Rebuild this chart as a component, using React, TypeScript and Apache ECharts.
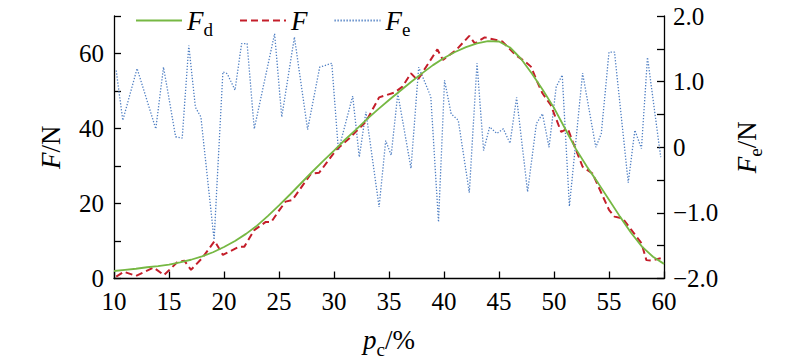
import React, { useEffect, useRef } from "react";
import * as echarts from "echarts";

// ---- data ----
const xTickValues = [10, 15, 20, 25, 30, 35, 40, 45, 50, 55, 60];

// design force F_d (N), sampled every 1 %
const fdX = [10, 11, 12, 13, 14, 15, 16, 17, 18, 19, 20, 21, 22, 23, 24, 25, 26, 27, 28, 29, 30, 31, 32, 33, 34, 35, 36, 37, 38, 39, 40, 41, 42, 43, 44, 45, 46, 47, 48, 49, 50, 51, 52, 53, 54, 55, 56, 57, 58, 59, 60];
const fdY = [2.0, 2.3, 2.6, 3.0, 3.3, 3.7, 4.3, 5.0, 5.9, 7.0, 8.4, 10.0, 11.9, 14.1, 16.7, 19.5, 22.4, 25.4, 28.4, 31.3, 34.1, 37.0, 39.7, 42.5, 45.1, 47.6, 50.0, 52.4, 54.7, 56.9, 58.8, 60.4, 61.7, 62.7, 63.3, 63.2, 61.6, 58.6, 54.6, 50.2, 45.5, 40.0, 34.5, 29.8, 25.5, 21.0, 16.5, 12.2, 8.5, 5.8, 3.9];

// measured force F (N)
const fX = [10.2, 10.9, 12.0, 13.6, 14.55, 15.8, 16.4, 17.0, 18.0, 19.15, 19.9, 21.4, 21.85, 22.75, 23.8, 24.3, 25.05, 25.6, 26.2, 27.9, 28.65, 30.2, 31.4, 32.9, 34.1, 35.5, 36.2, 37.0, 37.6, 39.4, 39.9, 41.1, 42.3, 42.8, 43.7, 45.3, 46.55, 47.4, 47.9, 48.5, 48.95, 49.7, 50.65, 51.25, 51.7, 52.6, 53.5, 55.0, 55.5, 56.25, 57.95, 58.4, 58.85, 59.7];
const fY = [0.5, 1.8, 0.7, 2.9, 0.9, 4.5, 4.75, 2.3, 5.4, 10.0, 6.3, 8.5, 8.5, 12.9, 15.1, 15.1, 18.3, 20.5, 20.9, 27.9, 28.2, 34.3, 37.4, 41.8, 48.3, 49.6, 51.1, 54.7, 52.9, 61.1, 58.3, 60.9, 64.7, 62.7, 64.3, 63.2, 59.5, 57.8, 56.5, 52.3, 49.4, 46.3, 39.1, 40.0, 36.5, 29.8, 28.0, 18.3, 16.5, 16.0, 9.4, 4.9, 4.75, 5.4];

// error F_e (N)
const feX = [10.2, 10.8, 12.1, 13.8, 14.5, 14.9, 15.6, 16.2, 16.8, 17.4, 17.9, 19.1, 19.9, 20.3, 21.0, 21.6, 22.1, 22.75, 24.6, 25.25, 26.4, 27.6, 28.7, 29.8, 30.4, 31.7, 32.3, 32.9, 34.1, 34.7, 35.2, 35.8, 37.0, 37.7, 38.8, 39.5, 40.05, 40.65, 41.3, 42.3, 43.0, 43.6, 44.15, 44.8, 45.4, 46.0, 46.6, 47.6, 48.4, 48.95, 49.55, 50.2, 50.75, 51.4, 52.6, 53.8, 54.3, 55.0, 55.5, 56.75, 57.35, 57.95, 58.5, 59.7];
const feY = [1.17, 0.41, 1.2, 0.28, 1.22, 0.84, 0.16, 0.14, 1.55, 0.61, 0.46, -1.41, 1.15, 1.12, 0.87, 1.58, 1.58, 0.28, 1.73, 0.46, 1.68, 0.27, 1.22, 1.28, -0.05, 0.78, -0.15, 0.54, -0.91, 0.1, -0.12, 0.82, -0.32, 1.22, 0.77, -1.14, 1.02, 0.51, 0.41, -0.69, 1.28, -0.05, 0.31, 0.21, 0.28, 0.06, 0.76, -0.68, 0.36, 0.51, 0.0, 0.92, 1.1, -0.9, 1.13, 0.0, 0.21, 1.45, 1.45, -0.54, 0.26, -0.02, 1.37, -0.15];

const FONT = "Liberation Serif";

const richStyles = {
  i: { fontFamily: FONT, fontStyle: "italic", fontSize: 27, lineHeight: 27, color: "#000" },
  s: { fontFamily: FONT, fontSize: 19, lineHeight: 37, verticalAlign: "bottom", color: "#000" },
  n: { fontFamily: FONT, fontSize: 27, lineHeight: 27, color: "#000" },
  t: { fontFamily: FONT, fontSize: 25, lineHeight: 18, color: "#000" },
};

const legendNames: Record<string, string> = {
  Fd: "{i|F}{s|d}",
  F: "{i|F}",
  Fe: "{i|F}{s|e}",
};

export default function App() {
  const ref = useRef<HTMLDivElement>(null);
  useEffect(() => {
    if (!ref.current) return;
    const chart = echarts.init(ref.current, undefined, { renderer: "svg" });
    const axisLine = { show: true, lineStyle: { color: "#000", width: 1.3 } };
    const axisTick = { show: true, inside: true, length: 7, lineStyle: { color: "#000", width: 1.3 } };
    const labelStyle = { color: "#000", fontFamily: FONT, fontSize: 25, lineHeight: 18, rich: richStyles };
    chart.setOption({
      animation: false,
      backgroundColor: "#fff",
      textStyle: { fontFamily: FONT },
      grid: {
        left: 114,
        right: 136,
        top: 16,
        bottom: 80.5,
        containLabel: false,
        outerBoundsMode: "none",
      },
      legend: {
        left: 130,
        top: 2,
        itemWidth: 46,
        itemHeight: 14,
        itemGap: 26,
        data: ["Fd", "F", "Fe"],
        formatter: (name: string) => legendNames[name],
        itemStyle: { opacity: 0 },
        textStyle: { fontFamily: FONT, rich: richStyles },
      },
      xAxis: {
        type: "value",
        min: xTickValues[0],
        max: xTickValues[xTickValues.length - 1],
        interval: 5,
        axisLine,
        axisTick,
        splitLine: { show: false },
        axisLabel: { ...labelStyle, margin: 14, formatter: (v: number) => `{t|${v}}` },
        name: "{i|p}{s|c}{n|/%}",
        nameLocation: "middle",
        nameGap: 43,
        nameTextStyle: { fontFamily: FONT, rich: richStyles },
      },
      yAxis: [
        {
          type: "value",
          position: "left",
          min: 0,
          max: 70,
          interval: 10,
          axisLine,
          axisTick,
          splitLine: { show: false },
          axisLabel: {
            ...labelStyle,
            margin: 10,
            formatter: (v: number) => (v % 20 === 0 && v <= 60 ? `{t|${v}}` : ""),
          },
          name: "{i|F}{n|/N}",
          nameLocation: "middle",
          nameRotate: 90,
          nameGap: 50,
          nameTextStyle: { fontFamily: FONT, rich: richStyles },
        },
        {
          type: "value",
          position: "right",
          min: -2,
          max: 2,
          interval: 0.5,
          axisLine,
          axisTick,
          splitLine: { show: false },
          axisLabel: {
            ...labelStyle,
            margin: 9,
            formatter: (v: number) => {
              if (Math.abs(v % 1) > 1e-9) return "";
              if (v === 0) return "{t|0}";
              return `{t|${(v < 0 ? "\u2212" : "") + Math.abs(v).toFixed(1)}}`;
            },
          },
          name: "{i|F}{s|e}{n|/N}",
          nameLocation: "middle",
          nameRotate: 90,
          nameGap: 64,
          nameTextStyle: { fontFamily: FONT, rich: richStyles },
        },
      ],
      series: [
        {
          name: "Fe",
          type: "line",
          yAxisIndex: 1,
          symbol: "none",
          data: feX.map((x, i) => [x, feY[i]]),
          lineStyle: { color: "#4f7fc3", width: 1.3, type: [1.3, 1.7] },
          itemStyle: { color: "#4f7fc3" },
          z: 1,
        },
        {
          name: "F",
          type: "line",
          yAxisIndex: 0,
          symbol: "none",
          data: fX.map((x, i) => [x, fY[i]]),
          lineStyle: { color: "#c41e2a", width: 2, type: [7, 4] },
          itemStyle: { color: "#c41e2a" },
          z: 2,
        },
        {
          name: "Fd",
          type: "line",
          yAxisIndex: 0,
          symbol: "none",
          data: fdX.map((x, i) => [x, fdY[i]]),
          lineStyle: { color: "#76b843", width: 1.8, type: "solid" },
          itemStyle: { color: "#76b843" },
          z: 3,
        },
      ],
    });
    return () => chart.dispose();
  }, []);
  return (
    <div
      ref={ref}
      style={{ position: "fixed", left: 0, top: 0, width: 800, height: 359, background: "#fff" }}
    />
  );
}
